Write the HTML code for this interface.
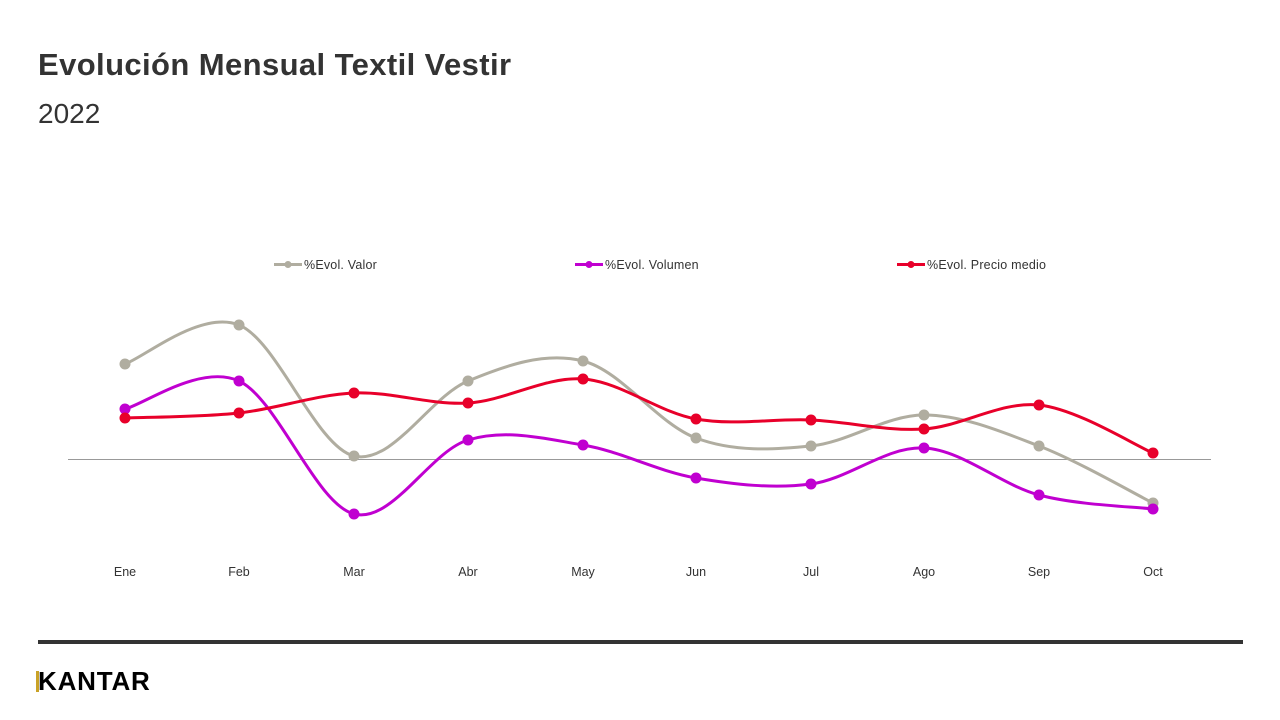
<!DOCTYPE html>
<html><head><meta charset="utf-8"><style>
body{margin:0;width:1280px;height:720px;background:#fff;font-family:"Liberation Sans",sans-serif;overflow:hidden;position:relative}
.t{position:absolute;left:38px;top:47px;font-size:31px;font-weight:bold;color:#333;letter-spacing:0.4px;word-spacing:0}
.s{position:absolute;left:38px;top:98px;font-size:28px;color:#333}
.bar{position:absolute;left:38px;top:640px;width:1205px;height:4px;background:#333}
.logo{position:absolute;left:36px;top:666px;font-size:26px;font-weight:bold;color:#000;letter-spacing:0.8px}
.logo span{display:inline-block;width:3px;height:21px;background:#c9a227;vertical-align:-2px;margin-right:-1px}
</style></head><body>
<div class="t">Evolución Mensual Textil Vestir</div>
<div class="s">2022</div>
<svg id="c" width="1280" height="720" style="position:absolute;left:0;top:0">
<line x1="68" y1="459.5" x2="1211" y2="459.5" stroke="#999" stroke-width="1"/>
<g font-size="12.5" fill="#333" text-anchor="middle" id="lab"></g>
<g font-size="12.5" fill="#333" letter-spacing="0.2">
<line x1="274" y1="264.5" x2="302" y2="264.5" stroke="#b0ada0" stroke-width="3"/><circle cx="288" cy="264.5" r="3.5" fill="#b0ada0"/><text x="304" y="269">%Evol. Valor</text>
<line x1="575" y1="264.5" x2="603" y2="264.5" stroke="#c000d0" stroke-width="3"/><circle cx="589" cy="264.5" r="3.5" fill="#c000d0"/><text x="605" y="269">%Evol. Volumen</text>
<line x1="897" y1="264.5" x2="925" y2="264.5" stroke="#e8002a" stroke-width="3"/><circle cx="911" cy="264.5" r="3.5" fill="#e8002a"/><text x="927" y="269">%Evol. Precio medio</text>
</g>
</svg>
<div class="bar"></div>
<div class="logo"><span></span>KANTAR</div>
<script>
var X=[125,239,354,468,583,696,811,924,1039,1153];
var M=["Ene","Feb","Mar","Abr","May","Jun","Jul","Ago","Sep","Oct"];
var S=[["#b0ada0",[364,325,456,381,361,438,446,415,446,503]],["#c000d0",[409,381,514,440,445,478,484,448,495,509]],["#e8002a",[418,413,393,403,379,419,420,429,405,453]]];
var svg=document.getElementById("c"),h="";
M.forEach(function(m,i){h+='<text x="'+X[i]+'" y="576">'+m+'</text>';});
document.getElementById("lab").innerHTML=h;
var out="";
S.forEach(function(s){var Y=s[1],d="M"+X[0]+" "+Y[0];
for(var i=0;i<9;i++){var p0=i?i-1:i,p3=i+2<10?i+2:i+1;
var c1x=X[i]+(X[i+1]-X[p0])/6,c1y=Y[i]+(Y[i+1]-Y[p0])/6,c2x=X[i+1]-(X[p3]-X[i])/6,c2y=Y[i+1]-(Y[p3]-Y[i])/6;
d+=" C"+c1x+" "+c1y+" "+c2x+" "+c2y+" "+X[i+1]+" "+Y[i+1];}
out+='<path d="'+d+'" fill="none" stroke="'+s[0]+'" stroke-width="3"/>';
for(var i=0;i<10;i++)out+='<circle cx="'+X[i]+'" cy="'+Y[i]+'" r="5.5" fill="'+s[0]+'"/>';});
svg.insertAdjacentHTML("beforeend",out);
</script>
</body></html>
